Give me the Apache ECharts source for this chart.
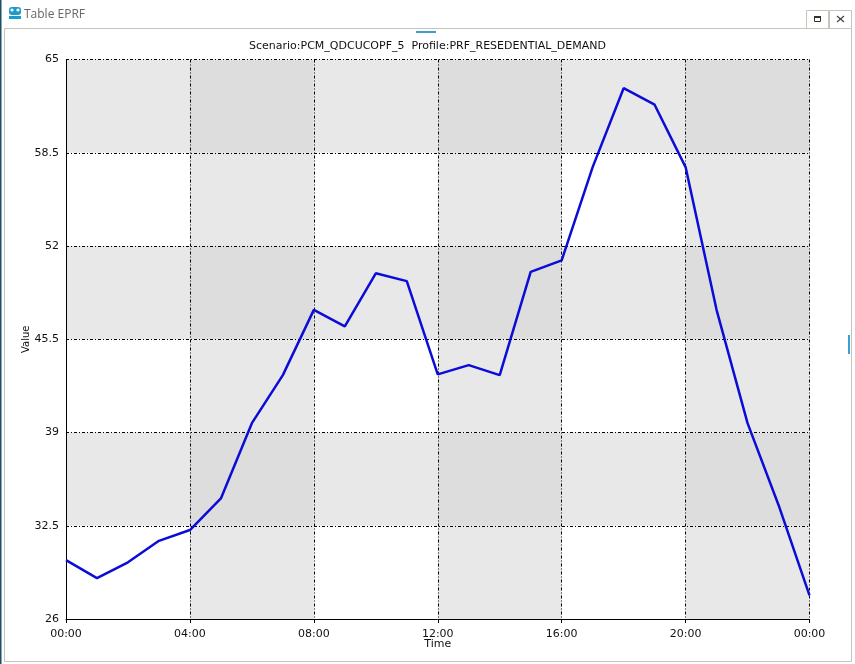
<!DOCTYPE html>
<html>
<head>
<meta charset="utf-8">
<title>Table EPRF</title>
<script src="https://cdn.jsdelivr.net/npm/echarts@6/dist/echarts.min.js"></script>
<style>
html, body { margin: 0; padding: 0; background: #fff; }
#mainChart { width: 855px; height: 664px; }
</style>
</head>
<body>
<div id="mainChart"></div>
<script>
// hourly values
var hours = [0, 1, 2, 3, 4, 5, 6, 7, 8, 9, 10, 11, 12, 13, 14, 15, 16, 17, 18, 19, 20, 21, 22, 23, 24];
var demand = [30.1, 28.85, 29.95, 31.45, 32.2, 34.4, 39.65, 43.0, 47.55, 46.4, 50.1, 49.55, 43.05, 43.7, 43.0, 50.2, 51.0, 57.5, 63.0, 61.85, 57.5, 47.55, 39.65, 33.95, 27.65];
var xTicks = [0, 4, 8, 12, 16, 20, 24];
var xTickLabels = ['00:00', '04:00', '08:00', '12:00', '16:00', '20:00', '00:00'];
var yTicks = [26, 32.5, 39, 45.5, 52, 58.5, 65];

var dashDot = [3, 2, 1, 2];

// checker background, one cell per grid square
var cells = [];
for (var i = 0; i < xTicks.length - 1; i++) {
    for (var j = 0; j < yTicks.length - 1; j++) {
        var shades = (i % 2) + (j % 2);
        if (shades === 0) continue;
        cells.push([
            { xAxis: xTicks[i], yAxis: yTicks[j], itemStyle: { color: shades === 2 ? '#dddddd' : '#e8e8e8' } },
            { xAxis: xTicks[i + 1], yAxis: yTicks[j + 1] }
        ]);
    }
}

var myChart = echarts.init(document.getElementById('mainChart'));

var option = {
    animation: false,
    backgroundColor: '#ffffff',
    textStyle: { fontFamily: 'DejaVu Sans' },
    title: {
        text: 'Scenario:PCM_QDCUCOPF_5  Profile:PRF_RESEDENTIAL_DEMAND',
        left: 244,
        top: 36,
        textStyle: { fontSize: 11, fontWeight: 'normal', color: '#111', fontFamily: 'DejaVu Sans' }
    },
    grid: { left: 66, right: 45.5, top: 59.5, bottom: 45 },
    xAxis: {
        type: 'value',
        min: 0,
        max: 24,
        interval: 4,
        name: 'Time',
        nameLocation: 'middle',
        nameMoveOverlap: false,
        nameGap: 20,
        nameTextStyle: { fontSize: 11, color: '#111' },
        axisLine: { show: true, lineStyle: { color: '#000', width: 1 } },
        axisTick: { show: true, length: 4, lineStyle: { color: '#000' } },
        axisLabel: {
            fontSize: 11,
            color: '#111',
            margin: 10,
            hideOverlap: false,
            showMinLabel: true,
            showMaxLabel: true,
            formatter: function (v) { return xTickLabels[xTicks.indexOf(v)]; }
        },
        splitLine: { show: true, lineStyle: { color: '#000', width: 1, type: dashDot } }
    },
    yAxis: {
        type: 'value',
        min: 26,
        max: 65,
        interval: 6.5,
        name: 'Value',
        nameLocation: 'middle',
        nameMoveOverlap: false,
        nameGap: 35,
        nameTextStyle: { fontSize: 10, color: '#111' },
        axisLine: { show: true, lineStyle: { color: '#000', width: 1 } },
        axisTick: { show: false },
        axisLabel: { fontSize: 11, color: '#111', margin: 7 },
        splitLine: { show: true, lineStyle: { color: '#000', width: 1, type: dashDot } }
    },
    series: [{
        name: 'PRF_RESEDENTIAL_DEMAND',
        type: 'line',
        data: hours.map(function (h, k) { return [h, demand[k]]; }),
        showSymbol: false,
        symbol: 'none',
        z: 5,
        lineStyle: { color: '#0c0cd8', width: 2.5 },
        markArea: { silent: true, z: -1, zlevel: 0, data: cells }
    }],
    // window frame around the chart
    graphic: [
        { type: 'rect', shape: { x: 0, y: 0, width: 1.5, height: 664 }, style: { fill: '#1d4f6b' }, silent: true },
        { type: 'rect', shape: { x: 4.5, y: 28.5, width: 847, height: 633 }, style: { fill: 'none', stroke: '#c6c3ba', lineWidth: 1 }, silent: true },
        { type: 'rect', shape: { x: 806.5, y: 10.5, width: 22, height: 18 }, style: { fill: '#fff', stroke: '#c6c3ba', lineWidth: 1 }, silent: true },
        { type: 'rect', shape: { x: 829.5, y: 10.5, width: 22, height: 18 }, style: { fill: '#fff', stroke: '#c6c3ba', lineWidth: 1 }, silent: true },
        { type: 'rect', shape: { x: 814.5, y: 16.5, width: 6, height: 5 }, style: { fill: 'none', stroke: '#333', lineWidth: 1 }, silent: true },
        { type: 'rect', shape: { x: 814, y: 16, width: 7, height: 2 }, style: { fill: '#333' }, silent: true },
        { type: 'line', shape: { x1: 837, y1: 16, x2: 844, y2: 22 }, style: { stroke: '#444', lineWidth: 1.2 }, silent: true },
        { type: 'line', shape: { x1: 844, y1: 16, x2: 837, y2: 22 }, style: { stroke: '#444', lineWidth: 1.2 }, silent: true },
        { type: 'rect', shape: { x: 416, y: 31, width: 20, height: 2 }, style: { fill: '#3aa0d0' }, silent: true },
        { type: 'rect', shape: { x: 848, y: 335, width: 2, height: 19 }, style: { fill: '#3aa0d0' }, silent: true },
        { type: 'rect', shape: { x: 9, y: 7, width: 12, height: 8, r: 3 }, style: { fill: '#1c9ac8' }, silent: true },
        { type: 'circle', shape: { cx: 12, cy: 10, r: 1.6 }, style: { fill: '#fff' }, silent: true },
        { type: 'circle', shape: { cx: 18, cy: 10, r: 1.6 }, style: { fill: '#fff' }, silent: true },
        { type: 'rect', shape: { x: 9, y: 16, width: 12, height: 3 }, style: { fill: '#1c9ac8' }, silent: true },
        { type: 'text', x: 24, y: 9, style: { text: 'Table EPRF', fontSize: 12, fill: '#666', fontFamily: 'Open Sans' }, silent: true }
    ]
};

myChart.setOption(option);
</script>
</body>
</html>
